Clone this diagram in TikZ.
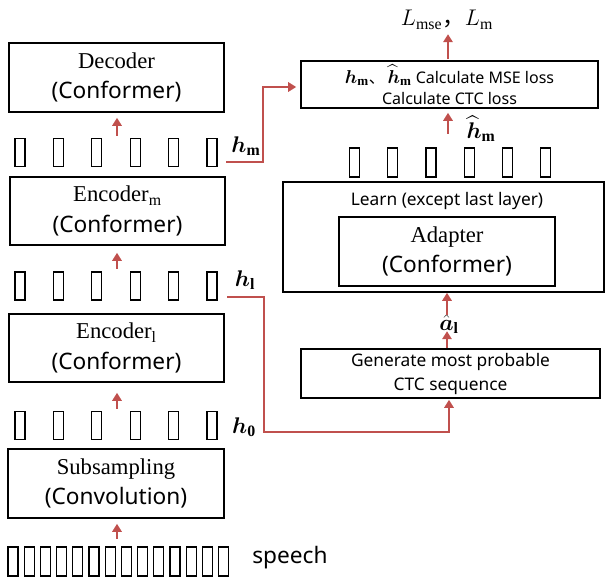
\RequirePackage{fix-cm}
\documentclass[tikz,border=0pt]{standalone}
\usepackage{fontspec}
\setmainfont{Liberation Serif}
\setsansfont{Noto Sans}
\newfontfamily\cjk{Noto Sans CJK JP}
\usepackage{amsmath,bm}
\usetikzlibrary{arrows.meta,calc}
\definecolor{arrred}{HTML}{C0504D}
\begin{document}
\begin{tikzpicture}[x=0.75pt,y=-0.75pt,
  box/.style={draw=black,line width=1.2pt,inner sep=0pt,align=center},
  twoline/.style={box,font=\fontsize{17}{23}\selectfont},
  cell/.style={draw=black,line width=0.9pt,inner sep=0pt,minimum width=7.5pt,minimum height=21pt},
  spcell/.style={cell,minimum height=21.75pt},
  mlab/.style={inner sep=0pt,font=\fontsize{17}{20}\selectfont},
  sanstxt/.style={inner sep=0pt,font=\sffamily\fontsize{13}{18}\selectfont,align=center},
  arr/.style={draw=arrred,line width=1.9pt,-{Triangle[width=7pt,length=6pt]}}
]
\useasboundingbox (0,0) rectangle (605,581);

% ---------- left column boxes ----------
\node[twoline,minimum width=161.25pt,minimum height=51.75pt] (dec) at (116.5,77.5)
  {{\rmfamily Decoder}\\{\sffamily (Conformer)}};
\node[twoline,minimum width=161.25pt,minimum height=51pt] (encm) at (117.5,211)
  {{\rmfamily Encoder$_{\mathrm{m}}$}\\{\sffamily (Conformer)}};
\node[twoline,minimum width=161.25pt,minimum height=51pt] (encl) at (116.5,348)
  {{\rmfamily Encoder$_{\mathrm{l}}$}\\{\sffamily (Conformer)}};
\node[twoline,minimum width=162pt,minimum height=51.75pt] (sub) at (116,483.5)
  {{\rmfamily Subsampling}\\{\sffamily (Convolution)}};

% ---------- cell rows ----------
\foreach \i in {0,...,5} {
  \node[cell] (hm\i) at ({20+38.4*\i},152.5) {};
  \node[cell] (hl\i) at ({20+38.4*\i},286) {};
  \node[cell] (hz\i) at ({20+38.4*\i},425.5) {};
  \node[cell,minimum height=21.75pt] (hr\i) at ({354.5+38.2*\i},162.5) {};
}
\foreach \i in {0,...,13} {
  \node[spcell] (sp\i) at ({13+16.2*\i},561.5) {};
}

% ---------- labels ----------
\node[mlab] (lhm) at (246,146) {$\bm{h}_{\mathbf{m}}$};
\node[mlab] (lhl) at (245,280) {$\bm{h}_{\mathbf{l}}$};
\node[mlab] (lhz) at (244,427) {$\bm{h}_{\mathbf{0}}$};
\node[inner sep=0pt,font=\sffamily\fontsize{17}{20}\selectfont] (speech) at (290,558) {speech};

% ---------- right column ----------
\node[mlab] (ltop) at (447,20) {$L_{\mathrm{mse}}${\cjk ，}$L_{\mathrm{m}}$};
\node[box,minimum width=222.75pt,minimum height=35.25pt,font=\sffamily\fontsize{12}{16}\selectfont] (loss) at (449.5,84.5)
  {{\fontsize{14}{16}\selectfont$\bm{h}_{\mathbf{m}}$}{\cjk 、}\,{\fontsize{14}{16}\selectfont$\widehat{\bm{h}}_{\mathbf{m}}$} Calculate MSE loss\\Calculate CTC loss};
\node[mlab] (lhhat) at (481,129) {$\widehat{\bm{h}}_{\mathbf{m}}$};
\node[box,minimum width=240.75pt,minimum height=82.5pt] (learn) at (443.5,237) {};
\node[sanstxt] (learntxt) at (447,201) {Learn (except last layer)};
\node[twoline,minimum width=162pt,minimum height=51.75pt] (adapter) at (447,251.5)
  {{\rmfamily Adapter}\\{\sffamily (Conformer)}};
\node[mlab,font=\fontsize{17}{20}\selectfont] (ahat) at (449,324) {$\hat{\bm{a}}_{\mathbf{l}}$};
\node[box,minimum width=224.25pt,minimum height=36.75pt,font=\sffamily\fontsize{13}{18}\selectfont] (gen) at (450.5,373.5)
  {Generate most probable\\CTC sequence};

% ---------- small vertical arrows ----------
\draw[arr] ($(dec.south)+(0.5,23)$) -- ($(dec.south)+(0.5,5)$);
\draw[arr] ($(encm.south)+(-0.5,23)$) -- ($(encm.south)+(-0.5,7)$);
\draw[arr] ($(encl.south)+(0.5,26)$) -- ($(encl.south)+(0.5,10)$);
\draw[arr] ($(sub.south)+(1,20)$) -- ($(sub.south)+(1,5)$);
\draw[arr] ($(loss.north)+(-1.5,-1)$) -- ($(loss.north)+(-1.5,-26)$);
\draw[arr] ($(loss.south)+(-1.5,25)$) -- ($(loss.south)+(-1.5,4)$);
\draw[arr] ($(gen.north)+(-3.5,0)$) -- ($(gen.north)+(-3.5,-17)$);
\draw[arr] ($(gen.north)+(-3.5,-33)$) -- ($(learn.south)+(3.5,0)$);

% ---------- long connectors ----------
\coordinate (hmout) at (226,162);
\coordinate (hlout) at (227,297);
\draw[arr] (hmout) -| ($(loss.west)+(-37,2.5)$) -- ($(loss.west)+(-4,2.5)$);
\draw[arr] (hlout) -| (264,432) -| ($(gen.south)+(-1.5,1)$);
\end{tikzpicture}
\end{document}
